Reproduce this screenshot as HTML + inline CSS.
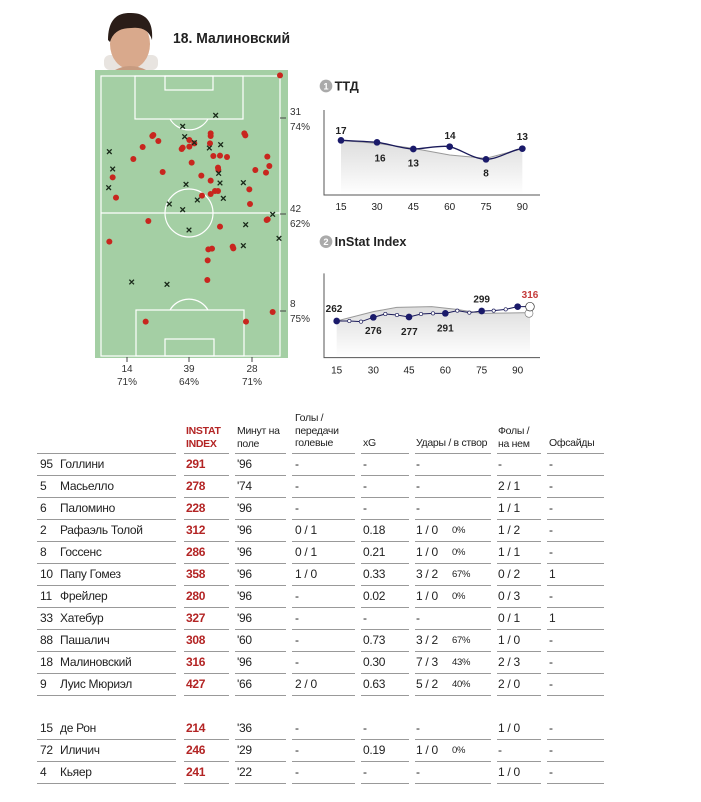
<!DOCTYPE html>
<html><head><meta charset="utf-8"><style>
body{margin:0;background:#fff;width:701px;height:802px;position:relative;overflow:hidden;font-family:"Liberation Sans",sans-serif;color:#222}
.t{position:absolute;font-size:12px;line-height:14px;white-space:nowrap;letter-spacing:-0.3px}
.r{color:#b32424;font-weight:bold}
.l{position:absolute;height:1px;background:#999}
.h{position:absolute;font-size:10.5px;line-height:12.5px;white-space:nowrap;letter-spacing:-0.3px}
</style></head><body>
<svg width="701" height="400" style="position:absolute;left:0;top:0" font-family="Liberation Sans, sans-serif">
<!-- photo -->
<rect x="104" y="55" width="54" height="15" rx="6" fill="#e8e4e0"/>
<ellipse cx="130" cy="44" rx="20" ry="25" fill="#d9a98c"/>
<path d="M108 40 Q108 12 131 13 Q154 13 152 40 Q148 26 131 28 Q114 28 110 42Z" fill="#2a1d18"/>
<path d="M115 70 Q130 62 146 70Z" fill="#c79b80"/>
<text x="173" y="43" font-size="15" font-weight="bold" fill="#222" textLength="117" lengthAdjust="spacingAndGlyphs">18. Малиновский</text>
<rect x="95" y="70" width="193" height="288" fill="#a4cfa4"/>
<g fill="none" stroke="#fff" stroke-width="1.2">
<rect x="101" y="76" width="179" height="280"/>
<line x1="101" y1="213" x2="280" y2="213"/>
<circle cx="189" cy="213" r="24"/>
<rect x="135" y="76" width="108" height="43"/>
<rect x="165" y="76" width="48" height="14"/>
<path d="M170 119 A22 22 0 0 0 208 119"/>
<rect x="136" y="310" width="108" height="46"/>
<rect x="165" y="339" width="49" height="17"/>
<path d="M170 310 A22 22 0 0 1 208 310"/>
</g>
<g transform="translate(90,10) scale(0.33333)">
<g fill="#c8261e">
<circle cx="570" cy="196" r="9"/><circle cx="187" cy="378" r="9"/><circle cx="190" cy="375" r="9"/><circle cx="205" cy="393" r="9"/><circle cx="158" cy="411" r="9"/><circle cx="130" cy="447" r="9"/><circle cx="218" cy="486" r="9"/><circle cx="68" cy="502" r="9"/><circle cx="78" cy="563" r="9"/><circle cx="275" cy="417" r="9"/><circle cx="278" cy="413" r="9"/><circle cx="298" cy="410" r="9"/><circle cx="298" cy="390" r="9"/><circle cx="305" cy="458" r="9"/><circle cx="334" cy="497" r="9"/><circle cx="336" cy="557" r="9"/><circle cx="362" cy="370" r="9"/><circle cx="362" cy="378" r="9"/><circle cx="360" cy="400" r="9"/><circle cx="370" cy="438" r="9"/><circle cx="362" cy="512" r="9"/><circle cx="362" cy="552" r="9"/><circle cx="375" cy="543" r="9"/><circle cx="384" cy="473" r="9"/><circle cx="385" cy="480" r="9"/><circle cx="390" cy="437" r="9"/><circle cx="411" cy="441" r="9"/><circle cx="463" cy="370" r="9"/><circle cx="466" cy="376" r="9"/><circle cx="532" cy="440" r="9"/><circle cx="538" cy="468" r="9"/><circle cx="496" cy="480" r="9"/><circle cx="528" cy="488" r="9"/><circle cx="478" cy="538" r="9"/><circle cx="480" cy="582" r="9"/><circle cx="530" cy="630" r="9"/><circle cx="533" cy="628" r="9"/><circle cx="390" cy="650" r="9"/><circle cx="175" cy="633" r="9"/><circle cx="58" cy="695" r="9"/><circle cx="355" cy="718" r="9"/><circle cx="366" cy="716" r="9"/><circle cx="428" cy="710" r="9"/><circle cx="430" cy="715" r="9"/><circle cx="353" cy="751" r="9"/><circle cx="352" cy="810" r="9"/><circle cx="548" cy="906" r="9"/><circle cx="167" cy="935" r="9"/><circle cx="468" cy="935" r="9"/><circle cx="313" cy="400" r="9"/><circle cx="384" cy="543" r="9"/>
</g>
<g stroke="#1a2a1a" stroke-width="4">
<path d="M370 309l14 14M384 309l-14 14M271 342l14 14M285 342l-14 14M277 373l14 14M291 373l-14 14M306 391l14 14M320 391l-14 14M351 407l14 14M365 407l-14 14M385 397l14 14M399 397l-14 14M51 418l14 14M65 418l-14 14M61 470l14 14M75 470l-14 14M49 526l14 14M63 526l-14 14M281 516l14 14M295 516l-14 14M379 483l14 14M393 483l-14 14M383 512l14 14M397 512l-14 14M453 511l14 14M467 511l-14 14M393 558l14 14M407 558l-14 14M231 575l14 14M245 575l-14 14M271 592l14 14M285 592l-14 14M315 563l14 14M329 563l-14 14M541 606l14 14M555 606l-14 14M460 637l14 14M474 637l-14 14M560 678l14 14M574 678l-14 14M290 653l14 14M304 653l-14 14M453 700l14 14M467 700l-14 14M118 809l14 14M132 809l-14 14M224 816l14 14M238 816l-14 14"/>
</g>
</g>
<g fill="#444" stroke="#444" stroke-width="1">
<line x1="280" y1="118" x2="286" y2="118"/><line x1="280" y1="214" x2="286" y2="214"/><line x1="280" y1="311" x2="286" y2="311"/>
<line x1="127" y1="357" x2="127" y2="362"/><line x1="189" y1="357" x2="189" y2="362"/><line x1="252" y1="357" x2="252" y2="362"/>
</g>
<g font-size="10" fill="#333">
<text x="290" y="115">31</text><text x="290" y="130">74%</text>
<text x="290" y="212">42</text><text x="290" y="227">62%</text>
<text x="290" y="307">8</text><text x="290" y="322">75%</text>
<text x="127" y="372" text-anchor="middle">14</text><text x="127" y="385" text-anchor="middle">71%</text>
<text x="189" y="372" text-anchor="middle">39</text><text x="189" y="385" text-anchor="middle">64%</text>
<text x="252" y="372" text-anchor="middle">28</text><text x="252" y="385" text-anchor="middle">71%</text>
</g>
<defs><linearGradient id="g" x1="0" y1="0" x2="0" y2="1"><stop offset="0" stop-color="#ddd"/><stop offset="1" stop-color="#fff"/></linearGradient></defs>
<g transform="translate(310,60) scale(0.33333)">
<circle cx="48" cy="78" r="19" fill="#aaa"/><text x="48" y="88" font-size="28" fill="#fff" text-anchor="middle" font-weight="bold">1</text>
<text x="74" y="91" font-size="38" font-weight="bold" fill="#222">ТТД</text>
<path d="M93 241L201 250L310 265L419 285L528 295L637 266L637 405L93 405Z" fill="url(#g)"/>
<path d="M93 241L201 250L310 265L419 285L528 295L637 266" fill="none" stroke="#999" stroke-width="3"/>
<path d="M42 150V405H690" fill="none" stroke="#555" stroke-width="3"/>
<path d="M93 241C150 244 170 244 201 247S280 267 310 267S390 255 419 260S490 298 528 298S610 266 637 266" fill="none" stroke="#1a1a5a" stroke-width="4"/>
<g fill="#1a1a6a"><circle cx="93" cy="241" r="10"/><circle cx="201" cy="247" r="10"/><circle cx="310" cy="267" r="10"/><circle cx="419" cy="260" r="10"/><circle cx="528" cy="298" r="10"/><circle cx="637" cy="266" r="10"/></g>
<g font-size="30" font-weight="bold" fill="#222" text-anchor="middle">
<text x="93" y="222">17</text><text x="210" y="305">16</text><text x="310" y="320">13</text><text x="420" y="237">14</text><text x="528" y="350">8</text><text x="637" y="240">13</text></g>
<g font-size="30" fill="#222" text-anchor="middle">
<text x="93" y="450">15</text><text x="201" y="450">30</text><text x="310" y="450">45</text><text x="419" y="450">60</text><text x="528" y="450">75</text><text x="637" y="450">90</text></g>
<circle cx="48" cy="545" r="19" fill="#aaa"/><text x="48" y="555" font-size="28" fill="#fff" text-anchor="middle" font-weight="bold">2</text>
<text x="74" y="558" font-size="38" font-weight="bold" fill="#222">InStat Index</text>
<path d="M80 783L190 755L260 742L365 740L440 748L515 760L660 758L660 893L80 893Z" fill="url(#g)"/>
<path d="M80 783L190 755L260 742L365 740L440 748L515 760L660 758" fill="none" stroke="#999" stroke-width="3"/>
<path d="M42 640V893H690" fill="none" stroke="#555" stroke-width="3"/>
<path d="M80 783L118 783L153 785L190 772L226 762L261 765L297 771L333 762L369 760L406 760L442 752L478 758L515 753L551 752L587 748L623 740L660 740" fill="none" stroke="#1a1a5a" stroke-width="3"/>
<g fill="#fff" stroke="#1a1a5a" stroke-width="2"><circle cx="118" cy="783" r="5"/><circle cx="153" cy="785" r="5"/><circle cx="226" cy="762" r="5"/><circle cx="261" cy="765" r="5"/><circle cx="333" cy="762" r="5"/><circle cx="369" cy="760" r="5"/><circle cx="442" cy="752" r="5"/><circle cx="478" cy="758" r="5"/><circle cx="551" cy="752" r="5"/><circle cx="587" cy="748" r="5"/></g>
<g fill="#1a1a6a"><circle cx="80" cy="783" r="10"/><circle cx="190" cy="772" r="10"/><circle cx="297" cy="771" r="10"/><circle cx="406" cy="760" r="10"/><circle cx="515" cy="753" r="10"/><circle cx="623" cy="740" r="10"/></g>
<circle cx="657" cy="760" r="12" fill="#fff" stroke="#777" stroke-width="2"/>
<circle cx="660" cy="740" r="13" fill="#fff" stroke="#333" stroke-width="2"/>
<g font-size="30" font-weight="bold" fill="#222" text-anchor="middle">
<text x="72" y="756">262</text><text x="190" y="822">276</text><text x="298" y="825">277</text><text x="406" y="815">291</text><text x="515" y="728">299</text><text x="660" y="714" fill="#c43a3a">316</text></g>
<g font-size="30" fill="#222" text-anchor="middle">
<text x="80" y="940">15</text><text x="190" y="940">30</text><text x="297" y="940">45</text><text x="406" y="940">60</text><text x="515" y="940">75</text><text x="623" y="940">90</text></g>
</g>
</svg>

<div class="h r" style="left:186px;top:425px">INSTAT<br>INDEX</div>
<div class="h" style="left:237px;top:425px">Минут на<br>поле</div>
<div class="h" style="left:295px;top:412px">Голы /<br>передачи<br>голевые</div>
<div class="h" style="left:363px;top:437px">xG</div>
<div class="h" style="left:416px;top:437px">Удары / в створ</div>
<div class="h" style="left:498px;top:425px">Фолы /<br>на нем</div>
<div class="h" style="left:549px;top:437px">Офсайды</div>

<div id="rows"></div>
<script>
const rows=[
[457,"95","Голлини","291","'96","-","-","-","","-","-"],
[479,"5","Масьелло","278","'74","-","-","-","","2 / 1","-"],
[501,"6","Паломино","228","'96","-","-","-","","1 / 1","-"],
[523,"2","Рафаэль Толой","312","'96","0 / 1","0.18","1 / 0","0%","1 / 2","-"],
[545,"8","Госсенс","286","'96","0 / 1","0.21","1 / 0","0%","1 / 1","-"],
[567,"10","Папу Гомез","358","'96","1 / 0","0.33","3 / 2","67%","0 / 2","1"],
[589,"11","Фрейлер","280","'96","-","0.02","1 / 0","0%","0 / 3","-"],
[611,"33","Хатебур","327","'96","-","-","-","","0 / 1","1"],
[633,"88","Пашалич","308","'60","-","0.73","3 / 2","67%","1 / 0","-"],
[655,"18","Малиновский","316","'96","-","0.30","7 / 3","43%","2 / 3","-"],
[677,"9","Луис Мюриэл","427","'66","2 / 0","0.63","5 / 2","40%","2 / 0","-"],
[721,"15","де Рон","214","'36","-","-","-","","1 / 0","-"],
[743,"72","Иличич","246","'29","-","0.19","1 / 0","0%","-","-"],
[765,"4","Кьяер","241","'22","-","-","-","","1 / 0","-"]];
const xs=[40,60,186,237,295,363,416,452,498,549];
const segs=[[37,176],[184,229],[235,286],[292,355],[361,409],[415,491],[497,541],[547,604]];
let h="";
function line(y){for(const s of segs)h+=`<div class="l" style="left:${s[0]}px;top:${y}px;width:${s[1]-s[0]}px"></div>`;}
line(453);
for(const r of rows){const y=r[0];
for(let i=1;i<r.length;i++){if(!r[i])continue;let c=i==3?"t r":"t";let st=i==8?"font-size:9.5px;top:"+(y+1)+"px":"top:"+y+"px";
h+=`<div class="${c}" style="left:${xs[i-1]}px;${st}">${r[i]}</div>`;}
line(y+18);}
document.getElementById("rows").innerHTML=h;
</script>
</body></html>
